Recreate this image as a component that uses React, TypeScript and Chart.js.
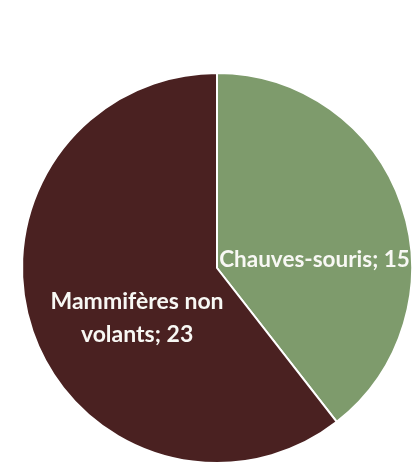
import React, { useEffect, useRef } from "react";
import { Chart, registerables } from "chart.js";

Chart.register(...registerables);

const categories = ["Chauves-souris", "Mammifères non volants"];
const values = [15, 23];
const labelLines = [["Chauves-souris; 15"], ["Mammifères non", "volants; 23"]];
const colors = ["#7e9b6c", "#4a2121"];

// label offsets relative to pie center, in units of radius
const labelOffsets = [
  [0.5, -0.04],
  [-0.41, 0.255],
];

const labelPlugin = {
  id: "pieLabels",
  afterDatasetsDraw(chart: any) {
    const ctx = chart.ctx;
    const meta = chart.getDatasetMeta(0);
    ctx.save();
    ctx.fillStyle = "#f8f8f4";
    ctx.textAlign = "center";
    ctx.textBaseline = "middle";
    meta.data.forEach((arc: any, i: number) => {
      ctx.font = (i === 0 ? "bold 22.5px" : "bold 23px") + " Lato, 'Open Sans', sans-serif";
      const r = arc.outerRadius;
      const cx = arc.x + labelOffsets[i][0] * r;
      const cy = arc.y + labelOffsets[i][1] * r;
      const lines = labelLines[i];
      const lh = 33;
      lines.forEach((t, j) => {
        ctx.fillText(t, cx, cy + (j - (lines.length - 1) / 2) * lh);
      });
    });
    ctx.restore();
  },
};

export default function App() {
  const ref = useRef<HTMLCanvasElement>(null);
  useEffect(() => {
    if (!ref.current) return;
    const chart = new Chart(ref.current, {
      type: "pie",
      data: {
        labels: categories,
        datasets: [
          {
            data: values,
            backgroundColor: colors,
            borderColor: "#ffffff",
            borderWidth: 2,
          },
        ],
      },
      options: {
        animation: false,
        responsive: true,
        maintainAspectRatio: false,
        layout: { padding: { left: 21, top: 72, right: 4, bottom: 5 } },
        plugins: {
          legend: { display: false },
          tooltip: { enabled: false },
        },
      },
      plugins: [labelPlugin],
    });
    return () => chart.destroy();
  }, []);
  return (
    <div
      style={{
        position: "absolute",
        left: 0,
        top: 0,
        width: 417,
        height: 469,
        overflow: "hidden",
        background: "#ffffff",
      }}
    >
      <canvas ref={ref} />
    </div>
  );
}
